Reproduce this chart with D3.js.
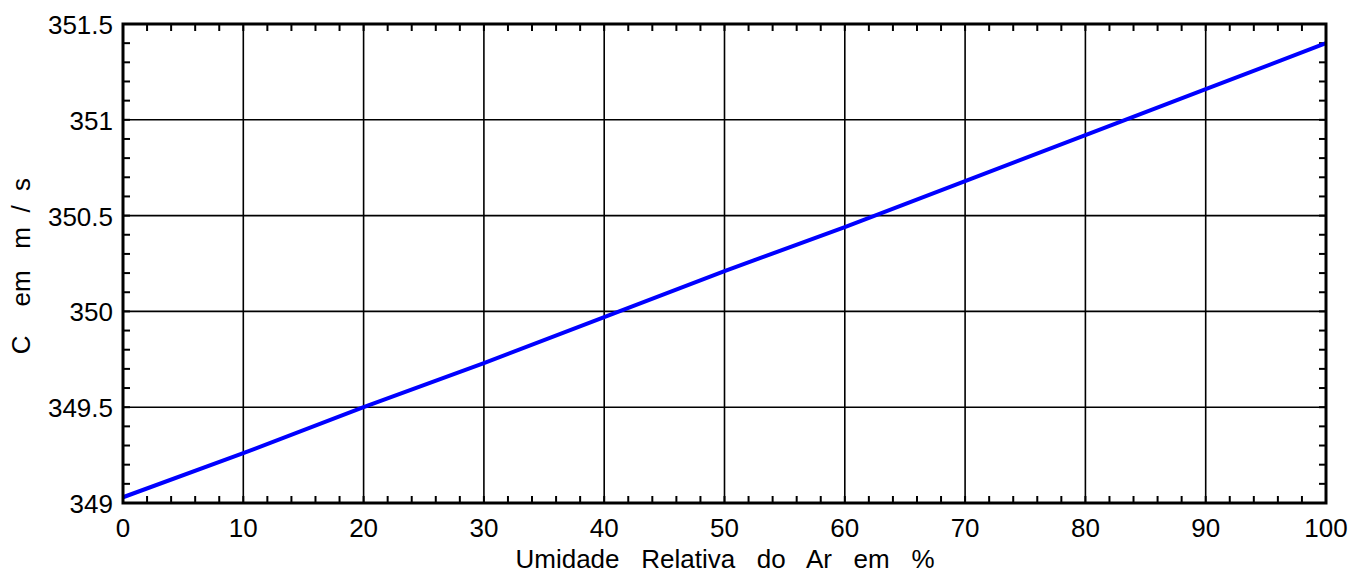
<!DOCTYPE html>
<html><head><meta charset="utf-8">
<script src="https://cdn.jsdelivr.net/npm/d3@7"></script>
<style>
body{margin:0;background:#fff;}
text{font-family:"Liberation Sans",Arial,Helvetica,sans-serif;fill:#000;white-space:pre;}
</style></head>
<body>
<svg id="c" width="1367" height="575"></svg>
<script>
const humidity = [0,10,20,30,40,50,60,70,80,90,100];
const speed = [349.03,349.26,349.50,349.73,349.97,350.21,350.44,350.68,350.92,351.16,351.40];
const xTicks = [0,10,20,30,40,50,60,70,80,90,100];
const yTicks = [349,349.5,350,350.5,351,351.5];
const yTickLabels = ["349","349.5","350","350.5","351","351.5"];
const xTitle = "Umidade   Relativa   do   Ar   em   %";
const yTitle = "C    em   m  /  s";

const svg = d3.select("#c");
const L=123,T=24,R=1326,B=503;
const x = d3.scaleLinear().domain([0,100]).range([L,R]);
const y = d3.scaleLinear().domain([349,351.5]).range([B,T]);

// grid
svg.append("g").selectAll("line").data(xTicks.slice(1,-1)).join("line")
  .attr("x1",d=>x(d)).attr("x2",d=>x(d)).attr("y1",T).attr("y2",B)
  .attr("stroke","#000").attr("stroke-width",1.6);
svg.append("g").selectAll("line").data(yTicks.slice(1,-1)).join("line")
  .attr("y1",d=>y(d)).attr("y2",d=>y(d)).attr("x1",L).attr("x2",R)
  .attr("stroke","#000").attr("stroke-width",1.6);

// minor ticks
const xMinor = d3.range(0,100.01,2);
const yMinor = d3.range(0,26).map(i=>349+i*0.1);
const tk = svg.append("g").attr("stroke","#000").attr("stroke-width",2);
xMinor.forEach(v=>{
  tk.append("line").attr("x1",x(v)).attr("x2",x(v)).attr("y1",B).attr("y2",B-7);
  tk.append("line").attr("x1",x(v)).attr("x2",x(v)).attr("y1",T).attr("y2",T+7);
});
yMinor.forEach(v=>{
  tk.append("line").attr("y1",y(v)).attr("y2",y(v)).attr("x1",L).attr("x2",L+7);
  tk.append("line").attr("y1",y(v)).attr("y2",y(v)).attr("x1",R).attr("x2",R-7);
});

// line
svg.append("path").datum(humidity.map((h,i)=>[h,speed[i]]))
  .attr("d",d3.line().x(d=>x(d[0])).y(d=>y(d[1])))
  .attr("fill","none").attr("stroke","#0000ff").attr("stroke-width",4);

// frame
svg.append("rect").attr("x",L).attr("y",T).attr("width",R-L).attr("height",B-T)
  .attr("fill","none").attr("stroke","#000").attr("stroke-width",3);

// tick labels
svg.append("g").selectAll("text").data(xTicks).join("text")
  .attr("x",d=>x(d)).attr("y",B+34).attr("text-anchor","middle")
  .attr("font-size",26).text(d=>d);
svg.append("g").selectAll("text").data(yTicks).join("text")
  .attr("x",L-10).attr("y",d=>y(d)+10).attr("text-anchor","end")
  .attr("font-size",26).text((d,i)=>yTickLabels[i]);

// titles
svg.append("text").attr("x",725).attr("y",568).attr("text-anchor","middle")
  .attr("font-size",26).text(xTitle);
svg.append("text").attr("transform",`translate(30,266) rotate(-90)`)
  .attr("text-anchor","middle").attr("font-size",26).text(yTitle);
</script>
</body></html>
